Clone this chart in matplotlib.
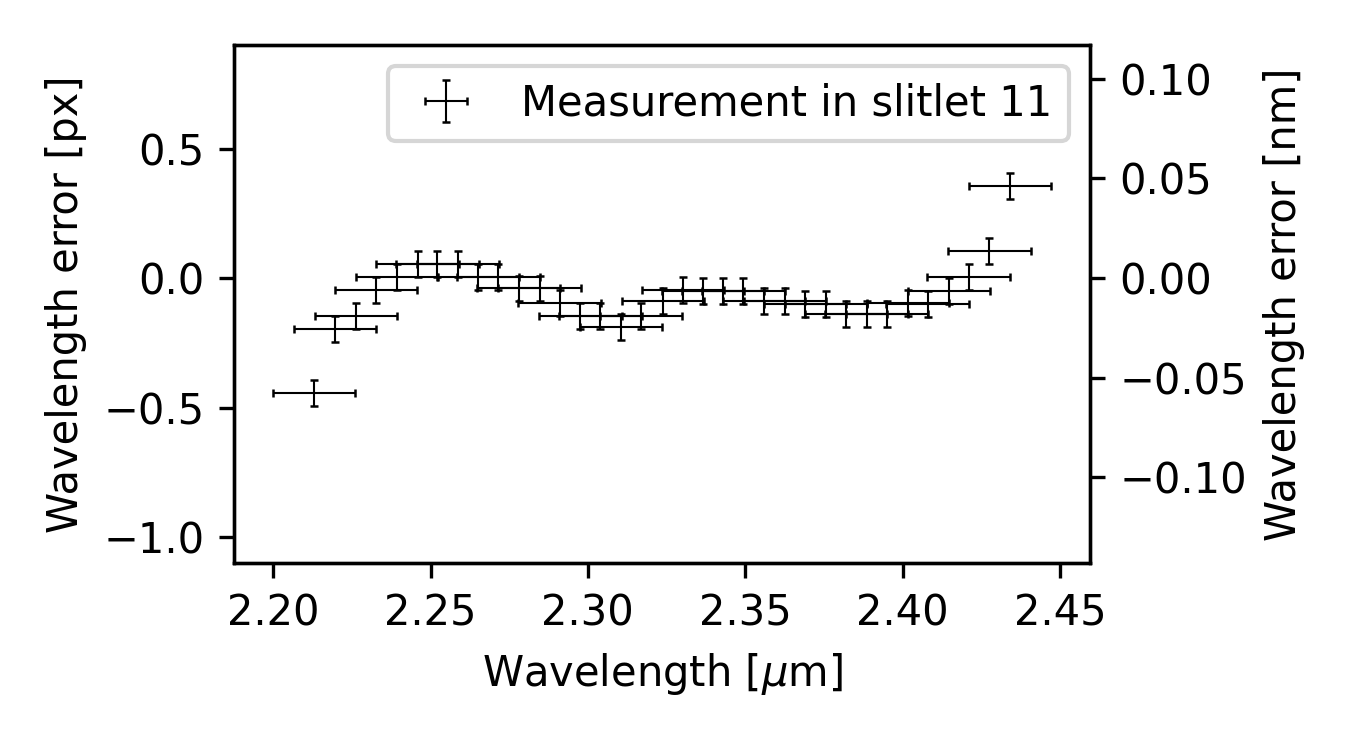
import numpy as np
import matplotlib
matplotlib.use('Agg')
from matplotlib import pyplot as plt

# slitlet 11 wavelength residuals
wavelength = [2.2130, 2.2197, 2.2263, 2.2327, 2.2393, 2.2459, 2.2522, 2.2588,
              2.2651, 2.2716, 2.2780, 2.2847, 2.2910, 2.2976, 2.3040, 2.3106,
              2.3169, 2.3239, 2.3302, 2.3366, 2.3430, 2.3494, 2.3560, 2.3627,
              2.3690, 2.3757, 2.3820, 2.3886, 2.3951, 2.4018, 2.4080, 2.4147,
              2.4210, 2.4276, 2.4341]
err_px = [-0.445, -0.195, -0.145, -0.045, 0.005, 0.055, 0.055, 0.055,
          0.005, 0.005, -0.04, -0.04, -0.095, -0.145, -0.145, -0.19,
          -0.145, -0.09, -0.045, -0.05, -0.05, -0.05, -0.09, -0.09,
          -0.10, -0.10, -0.14, -0.14, -0.14, -0.095, -0.10, -0.05,
          0.005, 0.105, 0.355]
x_halfwidth = 0.0131
y_unc = 0.05
nm_per_px = 0.13
px_lim = (-1.1, 0.9)

fig, ax = plt.subplots(figsize=(4.5, 2.5), dpi=300)
fig.subplots_adjust(left=0.1733, right=0.8074, top=0.94, bottom=0.2493)

ax.errorbar(wavelength, err_px, xerr=x_halfwidth, yerr=y_unc, fmt='none',
            ecolor='k', elinewidth=0.5, capsize=1, capthick=0.6,
            label='Measurement in slitlet 11')
ax.set_ylim(*px_lim)
ax.set_xlabel(r'Wavelength [$\mu$m]')
ax.set_ylabel('Wavelength error [px]')
ax.legend(loc='upper right')

ax2 = ax.twinx()
ax2.set_ylim(px_lim[0] * nm_per_px, px_lim[1] * nm_per_px)
ax2.set_ylabel('Wavelength error [nm]')

fig.savefig('out.png', dpi=300)
